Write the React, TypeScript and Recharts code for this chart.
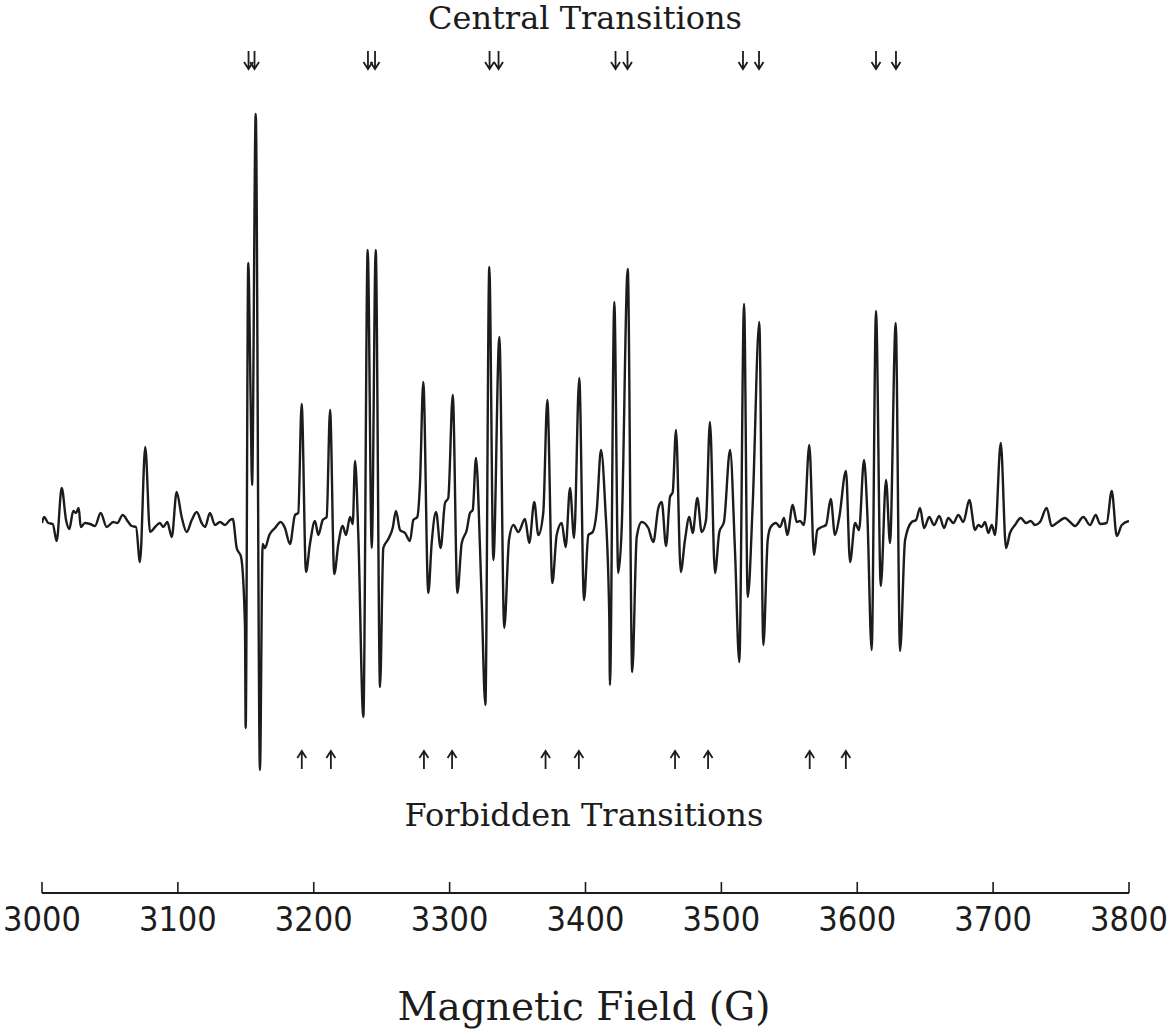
// EPR spectrum: central + forbidden hyperfine transitions (Recharts)

import { ComposedChart, Line, Scatter, XAxis, YAxis } from "recharts";

// magnetic field (G) of each traced point of the derivative spectrum
const FIELD_G = [
  3000.0, 3001.5, 3004.6, 3007.9, 3010.8, 3014.5, 3017.7, 3020.1, 3023.0, 3025.0,
  3027.0, 3028.5, 3031.6, 3035.3, 3039.0, 3043.2, 3047.6, 3052.5, 3055.4, 3059.4,
  3063.5, 3066.0, 3069.2, 3072.1, 3076.0, 3079.5, 3083.2, 3086.8, 3089.3, 3092.2,
  3095.5, 3099.1, 3102.8, 3106.5, 3110.2, 3113.9, 3117.5, 3120.0, 3123.6, 3127.3,
  3131.0, 3134.7, 3138.4, 3140.4, 3143.3, 3146.5, 3149.4, 3149.9, 3151.8, 3153.6,
  3154.6, 3157.3, 3160.4, 3162.4, 3164.1, 3167.3, 3171.5, 3175.7, 3178.8, 3182.5,
  3186.2, 3188.6, 3191.1, 3194.3, 3197.2, 3200.9, 3203.4, 3206.6, 3209.5, 3212.0,
  3215.1, 3218.1, 3221.3, 3223.7, 3226.7, 3228.7, 3230.4, 3232.8, 3236.5, 3239.7,
  3242.7, 3245.6, 3248.8, 3251.2, 3254.9, 3258.1, 3260.5, 3263.5, 3267.2, 3270.8,
  3273.3, 3276.2, 3278.2, 3280.6, 3284.3, 3286.8, 3290.0, 3293.4, 3296.6, 3299.0,
  3302.3, 3305.7, 3308.9, 3312.6, 3315.0, 3317.0, 3319.4, 3322.4, 3323.6, 3326.3,
  3329.2, 3332.2, 3336.6, 3340.2, 3343.7, 3346.9, 3350.6, 3355.5, 3358.6, 3362.3,
  3365.3, 3368.9, 3371.9, 3375.6, 3378.8, 3382.5, 3385.4, 3388.6, 3391.6, 3395.4,
  3398.9, 3402.1, 3405.3, 3408.3, 3411.4, 3414.4, 3417.5, 3418.0, 3421.2, 3424.1,
  3426.6, 3431.1, 3434.4, 3437.7, 3441.4, 3446.2, 3449.9, 3453.6, 3456.1, 3459.3,
  3462.2, 3464.2, 3466.6, 3470.1, 3473.2, 3476.4, 3478.9, 3482.3, 3485.5, 3488.7,
  3491.6, 3495.3, 3498.5, 3501.9, 3506.4, 3510.0, 3513.2, 3516.7, 3519.4, 3523.1,
  3527.9, 3530.9, 3534.1, 3536.3, 3540.2, 3543.2, 3546.1, 3548.5, 3552.5, 3555.5,
  3557.9, 3560.8, 3564.7, 3568.2, 3570.6, 3573.8, 3577.0, 3580.5, 3583.6, 3586.8,
  3591.7, 3594.7, 3598.4, 3601.3, 3605.0, 3607.4, 3610.6, 3613.8, 3617.3, 3621.2,
  3624.1, 3628.3, 3631.5, 3635.2, 3640.1, 3643.3, 3646.2, 3649.2, 3653.0, 3656.5,
  3660.4, 3663.9, 3667.0, 3670.7, 3674.4, 3678.1, 3682.5, 3686.7, 3689.1, 3691.6,
  3694.0, 3696.5, 3699.0, 3701.4, 3705.6, 3709.5, 3712.4, 3716.1, 3720.3, 3724.2,
  3727.7, 3730.8, 3734.5, 3739.4, 3743.1, 3746.8, 3752.9, 3756.6, 3760.3, 3766.4,
  3771.3, 3775.5, 3778.7, 3783.6, 3787.3, 3791.0, 3794.7, 3800.0,
];

// signal amplitude (arbitrary units) at each field point
const SIGNAL = [
  -3, 3, -3, -4, -21, 32, 0, -9, 9, 7,
  12, -7, -3, -4, -6, 7, -7, -2, -3, 5,
  -2, -6, -7, -42, 73, -12, -7, -3, -7, -2,
  -17, 28, 3, -12, 0, 8, -3, -7, 7, -5,
  -2, -5, 0, 1, -28, -37, -106, -208, 257, 116,
  35, 406, -250, -24, -28, -15, -8, -2, -8, -24,
  5, 7, 116, -52, -24, -1, -15, 0, 3, 110,
  -54, -24, -6, -15, 3, -4, 59, -15, -197, 270,
  -28, 270, -167, -28, -19, -8, 9, -10, -13, -21,
  0, 3, 37, 138, -73, -23, 8, -28, 17, 22,
  125, -73, -23, -10, 7, 10, 62, -30, -80, -185,
  253, -40, 183, -108, -20, -5, -12, 1, -23, 18,
  -15, 7, 120, -63, -15, -3, -27, 32, -18, 142,
  -80, -15, -12, 10, 70, 17, -97, -165, 218, -53,
  -10, 251, -152, -17, -2, -8, -22, 12, 18, -26,
  23, 28, 90, -52, -20, 3, -13, 22, -12, 0,
  98, -53, -12, -2, 70, -30, -142, 216, -77, 17,
  198, -125, -20, -7, -3, -7, 2, -15, 15, -2,
  -1, -5, 75, -35, -10, -7, -5, 21, -15, 3,
  49, -42, -3, -10, 60, 7, -130, 209, -66, 40,
  -23, 197, -131, -20, -2, 0, 12, -8, 3, -5,
  4, -8, 2, -3, 5, -2, 20, -10, -5, -7,
  -2, -13, -5, -15, 77, -28, -13, -5, 2, -3,
  -1, -5, -2, 12, -6, -3, 2, -2, -6, 3,
  -5, 5, -4, -3, 29, -16, -5, -1,
];

// marker positions (G)
const CENTRAL_G = [3152.0, 3156.4, 3239.9, 3245.1, 3329.4, 3336.0, 3422.1, 3430.9, 3515.9, 3527.7, 3613.8, 3628.5];
const FORBIDDEN_G = [3191.2, 3212.6, 3281.1, 3301.8, 3370.6, 3395.1, 3465.9, 3490.2, 3565.0, 3591.6];
const CENTRAL_LEVEL = 460;
const FORBIDDEN_LEVEL = -240;

const TICKS_G = [3000, 3100, 3200, 3300, 3400, 3500, 3600, 3700, 3800];

const INK = "#1c1c1c";
const SERIF = "'DejaVu Serif', 'Liberation Serif', serif";

function DownArrow(props: any) {
  const { cx, cy } = props;
  return (
    <path
      d={`M${cx},${cy - 9} L${cx},${cy + 9} M${cx - 4.5},${cy + 2} L${cx},${cy + 9} L${cx + 4.5},${cy + 2}`}
      stroke={INK}
      strokeWidth={1.8}
      fill="none"
    />
  );
}

function UpArrow(props: any) {
  const { cx, cy } = props;
  return (
    <path
      d={`M${cx},${cy + 9} L${cx},${cy - 9} M${cx - 4.5},${cy - 2} L${cx},${cy - 9} L${cx + 4.5},${cy - 2}`}
      stroke={INK}
      strokeWidth={1.8}
      fill="none"
    />
  );
}

export default function App() {
  const spectrum = FIELD_G.map((field, i) => ({ field, value: SIGNAL[i] }));
  const central = CENTRAL_G.map((field) => ({ field, value: CENTRAL_LEVEL }));
  const forbidden = FORBIDDEN_G.map((field) => ({ field, value: FORBIDDEN_LEVEL }));

  return (
    <div style={{ position: "absolute", left: 0, top: 0, width: 1176, height: 1035, background: "#fff" }}>
      <ComposedChart width={1176} height={1035} margin={{ top: 40, right: 47, bottom: 82, left: 42 }}>
        <XAxis
          type="number"
          dataKey="field"
          domain={[3000, 3800]}
          ticks={TICKS_G}
          allowDataOverflow
          height={60}
          tickSize={-11}
          tickMargin={25}
          stroke={INK}
          axisLine={{ stroke: INK, strokeWidth: 2 }}
          tickLine={{ stroke: INK, strokeWidth: 1.6 }}
          tick={{ fill: INK, fontSize: 34, fontFamily: "'DejaVu Sans Condensed', 'DejaVu Sans', sans-serif" }}
        />
        <YAxis hide type="number" domain={[-373, 480]} allowDataOverflow />
        <Line
          data={spectrum}
          dataKey="value"
          type="monotone"
          stroke={INK}
          strokeWidth={2.4}
          strokeLinejoin="round"
          dot={false}
          isAnimationActive={false}
        />
        <Scatter data={central} dataKey="value" shape={DownArrow} isAnimationActive={false} />
        <Scatter data={forbidden} dataKey="value" shape={UpArrow} isAnimationActive={false} />
      </ComposedChart>
      <svg
        width={1176}
        height={1035}
        style={{ position: "absolute", left: 0, top: 0, pointerEvents: "none" }}
      >
        <text x={585} y={29} textAnchor="middle" fontSize={32} fontFamily={SERIF} fill={INK}>
          Central Transitions
        </text>
        <text x={584} y={826} textAnchor="middle" fontSize={32} fontFamily={SERIF} fill={INK}>
          Forbidden Transitions
        </text>
        <text x={584} y={1020} textAnchor="middle" fontSize={39} fontFamily={SERIF} fill={INK}>
          Magnetic Field (G)
        </text>
      </svg>
    </div>
  );
}
